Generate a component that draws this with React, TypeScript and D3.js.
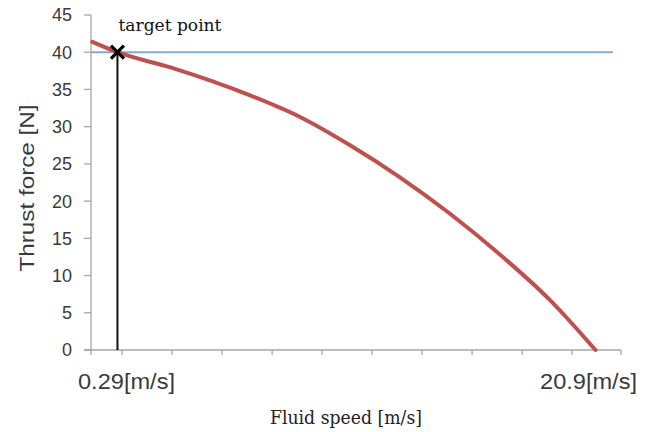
import React, { useEffect, useRef } from 'react';
import * as d3 from 'd3';

// thrust curve
const speeds = [-0.79, 0.29, 2.64, 6.01, 8.16, 10.32, 12.47, 14.63, 16.79, 18.94, 20.9];
const thrust = [41.4, 40, 37.9, 34.2, 31.3, 27.5, 23.2, 18.3, 12.8, 6.7, 0];

const yTicks = [0, 5, 10, 15, 20, 25, 30, 35, 40, 45];
const xTicks = [0.49, 2.64, 4.8, 6.96, 9.11, 11.27, 13.42, 15.58, 17.74, 19.89, 22.0];

const xLabels = ['0.29[m/s]', '20.9[m/s]'];
const xLabelAt = [0.68, 20.6];

const targetSpeed = 0.29;
const targetThrust = 40;
const targetLineEnd = 21.65;

const width = 651;
const height = 432;
const margin = { top: 15, right: 30, bottom: 82, left: 91 };

export default function App() {
  const ref = useRef<SVGSVGElement>(null);

  useEffect(() => {
    const svg = d3.select(ref.current);
    svg.selectAll('*').remove();

    const x = d3.scaleLinear().domain([-0.85, 22]).range([margin.left, width - margin.right]);
    const y = d3.scaleLinear().domain([0, 45]).range([height - margin.bottom, margin.top]);
    const axisColor = '#a6a6a6';
    const y0 = y(0);

    // axes
    svg.append('line')
      .attr('x1', x(-0.85)).attr('x2', x(-0.85))
      .attr('y1', y(45)).attr('y2', y0 + 5)
      .attr('stroke', axisColor).attr('stroke-width', 1.3);
    svg.append('line')
      .attr('x1', x(-0.85) - 7).attr('x2', x(22))
      .attr('y1', y0).attr('y2', y0)
      .attr('stroke', axisColor).attr('stroke-width', 1.3);

    svg.selectAll('.ytick')
      .data(yTicks)
      .enter().append('line')
      .attr('x1', x(-0.85) - 7).attr('x2', x(-0.85))
      .attr('y1', (d) => y(d)).attr('y2', (d) => y(d))
      .attr('stroke', axisColor).attr('stroke-width', 1.3);

    svg.selectAll('.ylab')
      .data(yTicks)
      .enter().append('text')
      .attr('x', x(-0.85) - 19)
      .attr('y', (d) => y(d))
      .attr('dy', '0.36em')
      .attr('text-anchor', 'end')
      .attr('font-family', 'Liberation Sans, Arial, sans-serif')
      .attr('font-size', 18)
      .attr('fill', '#3a3a3a')
      .text((d) => d);

    svg.selectAll('.xtick')
      .data(xTicks)
      .enter().append('line')
      .attr('x1', (d) => x(d)).attr('x2', (d) => x(d))
      .attr('y1', y0).attr('y2', y0 + 5)
      .attr('stroke', axisColor).attr('stroke-width', 1.3);

    svg.selectAll('.xlab')
      .data(xLabels)
      .enter().append('text')
      .attr('x', (d, i) => x(xLabelAt[i]))
      .attr('y', y0 + 39)
      .attr('text-anchor', 'middle')
      .attr('font-family', 'Liberation Sans, Arial, sans-serif')
      .attr('font-size', 22)
      .attr('textLength', 97)
      .attr('lengthAdjust', 'spacingAndGlyphs')
      .attr('fill', '#3a3a3a')
      .text((d) => d);

    // titles
    svg.append('text')
      .attr('transform', 'translate(34,' + 188 + ') rotate(-90)')
      .attr('text-anchor', 'middle')
      .attr('font-family', 'Liberation Sans, Arial, sans-serif')
      .attr('font-size', 20)
      .attr('textLength', 167)
      .attr('lengthAdjust', 'spacingAndGlyphs')
      .attr('fill', '#3a3a3a')
      .text('Thrust force [N]');

    svg.append('text')
      .attr('x', 346)
      .attr('y', 424)
      .attr('text-anchor', 'middle')
      .attr('font-family', 'DejaVu Serif, serif')
      .attr('font-size', 18)
      .attr('textLength', 152)
      .attr('lengthAdjust', 'spacingAndGlyphs')
      .attr('fill', '#222')
      .text('Fluid speed [m/s]');

    // target horizontal line
    svg.append('line')
      .attr('x1', x(-0.85)).attr('x2', x(targetLineEnd))
      .attr('y1', y(targetThrust)).attr('y2', y(targetThrust))
      .attr('stroke', '#86a8d8').attr('stroke-width', 2);

    // thrust curve
    const pts: [number, number][] = speeds.map((s, i) => [s, thrust[i]]);
    const line = d3.line<[number, number]>()
      .x((d) => x(d[0]))
      .y((d) => y(d[1]))
      .curve(d3.curveMonotoneX);
    svg.append('path')
      .attr('d', line(pts) || '')
      .attr('fill', 'none')
      .attr('stroke', '#c0504d')
      .attr('stroke-width', 4)
      .attr('stroke-linecap', 'round');

    // vertical line at target speed
    svg.append('line')
      .attr('x1', x(targetSpeed)).attr('x2', x(targetSpeed))
      .attr('y1', y(targetThrust)).attr('y2', y0)
      .attr('stroke', '#111').attr('stroke-width', 2);

    // X marker
    const tx = x(targetSpeed);
    const ty = y(targetThrust);
    const m = svg.append('g').attr('stroke', '#000').attr('stroke-width', 3.2);
    m.append('line').attr('x1', tx - 6.5).attr('y1', ty - 6.5).attr('x2', tx + 6.5).attr('y2', ty + 6.5);
    m.append('line').attr('x1', tx - 6.5).attr('y1', ty + 6.5).attr('x2', tx + 6.5).attr('y2', ty - 6.5);

    svg.append('text')
      .attr('x', tx + 1)
      .attr('y', ty - 21)
      .attr('font-family', 'DejaVu Serif, serif')
      .attr('font-size', 17)
      .attr('textLength', 103)
      .attr('lengthAdjust', 'spacingAndGlyphs')
      .attr('fill', '#111')
      .text('target point');
  }, []);

  return (
    <div style={{ position: 'absolute', left: 0, top: 0 }}>
      <svg ref={ref} width={width} height={height} style={{ display: 'block', background: '#fff' }}></svg>
    </div>
  );
}
